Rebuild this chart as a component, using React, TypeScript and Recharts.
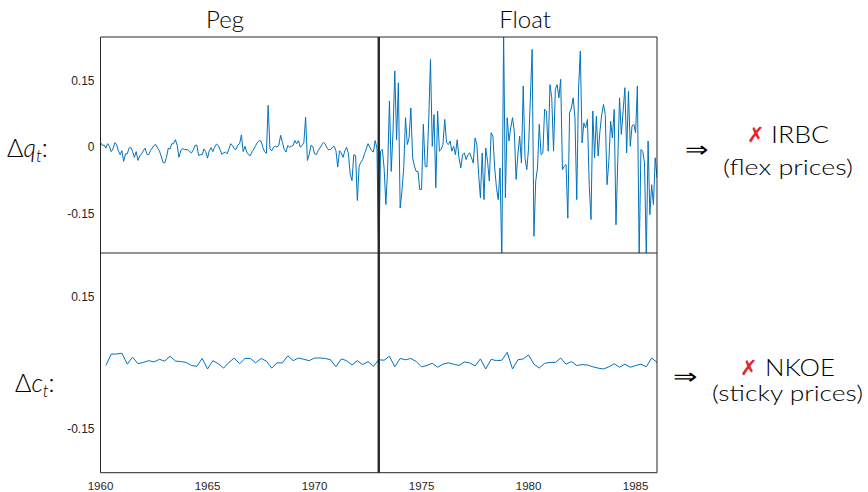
import { Line, LineChart, ReferenceLine, XAxis, YAxis } from 'recharts'

// monthly real exchange rate growth, Δq_t
const PEG_Q_START = 1960
const PEG_Q = [
  0.011, 0.004, 0.005, -0.002, 0.008, 0.002, -0.01, -0.004, 0.01, 0.007,
  -0.008, -0.017, -0.008, -0.032, -0.015, -0.015, -0.002, 0.0, -0.01, -0.023,
  -0.01, -0.03, -0.02, -0.015, -0.008, -0.002, -0.016, -0.017, -0.008, -0.002,
  0.004, 0.006, -0.002, -0.008, -0.02, -0.034, -0.036, -0.023, -0.002, -0.004,
  0.008, 0.008, 0.017, 0.004, -0.023, -0.008, -0.003, -0.005, -0.005, -0.006,
  -0.01, -0.013, -0.006, 0.004, 0.005, -0.019, -0.017, -0.017, -0.004, -0.01,
  -0.025, -0.008, -0.001, -0.01, 0.0, 0.007, 0.004, -0.005, -0.016, -0.013,
  -0.011, -0.015, -0.004, 0.008, 0.004, -0.004, -0.005, 0.005, 0.008, 0.028,
  -0.01, 0.002, -0.011, -0.017, -0.019, -0.01, -0.004, 0.004, 0.011, 0.015,
  0.014, 0.0, -0.01, -0.014, 0.095, -0.004, -0.008, 0.0, 0.002, 0.0,
  0.005, 0.027, 0.011, -0.005, -0.011, 0.004, 0.0, 0.002, 0.004, 0.015,
  0.008, 0.015, 0.0, 0.004, 0.01, 0.068, -0.03, -0.017, 0.004, 0.002,
  -0.015, -0.017, -0.008, -0.002, 0.005, 0.011, 0.007, -0.002, -0.006, -0.005,
  0.0, 0.002, -0.008, -0.045, -0.008, -0.013, -0.023, -0.008, 0.0, -0.015,
  -0.061, -0.076, -0.017, -0.019, -0.121, -0.043, -0.034, -0.028, -0.015, -0.004,
  0.008, 0.0, -0.008, -0.011, 0.015, -0.002,
]
const FLOAT_Q_START = 1973
const FLOAT_Q = [
  -0.26, -0.009, -0.005, -0.047, -0.13, -0.047, 0.105, -0.055, 0.036, 0.173,
  0.017, 0.146, -0.138, -0.1, -0.047, 0.067, 0.006, 0.021, 0.089, -0.024,
  -0.043, -0.055, -0.055, -0.096, -0.096, 0.052, -0.043, -0.045, 0.059, 0.199,
  0.002, 0.074, -0.092, 0.082, -0.009, -0.005, 0.006, 0.063, 0.01, 0.006,
  0.014, -0.009, 0.002, -0.017, 0.017, -0.024, -0.047, -0.017, -0.013, -0.028,
  -0.017, -0.013, -0.024, -0.036, 0.021, 0.006, -0.062, -0.115, -0.013, -0.119,
  -0.002, -0.032, -0.077, 0.033, 0.025, -0.047, -0.092, -0.119, -0.047, -0.26,
  0.26, -0.115, 0.067, 0.014, 0.044, 0.067, 0.036, -0.073, -0.017, 0.025,
  -0.036, 0.139, -0.024, -0.051, -0.002, 0.112, 0.222, -0.202, -0.077, -0.047,
  0.052, -0.017, -0.013, 0.086, 0.082, -0.009, 0.142, 0.112, -0.009, 0.131,
  0.142, 0.112, 0.154, -0.051, -0.043, -0.039, -0.161, 0.078, 0.089, 0.112,
  0.067, -0.119, 0.131, 0.218, 0.01, 0.055, 0.044, 0.063, -0.085, -0.164,
  0.082, -0.024, 0.07, -0.02, 0.036, 0.074, 0.097, 0.074, -0.085, -0.032,
  0.059, 0.021, 0.086, -0.176, -0.032, 0.112, 0.029, 0.082, 0.135, -0.013,
  0.127, 0.002, 0.048, 0.052, 0.033, 0.139, -0.25, -0.005, -0.009, -0.036,
  -0.25, 0.014, -0.153, -0.085, -0.13, -0.024, -0.07,
]

// quarterly consumption growth, Δc_t
const PEG_C_START = 1960.25
const PEG_C = [
  -0.006, 0.02, 0.02, 0.022, -0.003, 0.013, -0.002, 0.001, 0.005, 0.002,
  0.008, 0.004, 0.015, 0.004, 0.003, 0.001, -0.006, -0.008, 0.01, -0.014,
  0.005, -0.002, -0.012, 0.001, 0.011, -0.002, 0.01, 0.01, 0.0, 0.01,
  0.004, -0.012, 0.0, 0.0, 0.016, 0.005, 0.011, 0.008, 0.005, 0.011,
  0.011, 0.01, 0.007, -0.009, 0.009, 0.005, -0.005, 0.005, -0.004, 0.003,
  -0.008,
]
const FLOAT_C_START = 1973
const FLOAT_C = [
  0.007, 0.006, 0.015, -0.009, 0.01, 0.007, 0.01, 0.003, -0.009, -0.006,
  -0.001, -0.01, -0.003, 0.0, -0.003, -0.006, 0.002, 0.0, -0.007, 0.009,
  -0.014, 0.008, 0.005, 0.006, 0.024, -0.014, 0.007, 0.009, 0.018, -0.003,
  -0.012, -0.001, 0.001, 0.001, 0.011, -0.003, 0.003, -0.006, -0.004, -0.005,
  -0.009, -0.012, -0.014, -0.009, -0.002, -0.01, -0.003, -0.01, -0.006, -0.003,
  -0.009, 0.011, 0.001,
]

const YEAR_TICKS = [1960, 1965, 1970, 1975, 1980, 1985]
const BREAK_YEAR = 1973
const Q_LABEL_TICKS = [0.15, 0, -0.15]
const C_LABEL_TICKS = [0.15, -0.15]
const LEFT_MARKS_Q = [0.15, 0, -0.15]
const LEFT_MARKS_C = [0.15, -0.15]
const RIGHT_MARKS = [0.2, 0.15, 0.1, 0, -0.1, -0.15, -0.2]

const toSeries = (start: number, step: number, vals: number[]) =>
  vals.map((v, i) => ({ t: start + i * step, v }))

const qData = [
  ...toSeries(PEG_Q_START, 1 / 12, PEG_Q),
  ...toSeries(FLOAT_Q_START, 1 / 12, FLOAT_Q),
]
const cData = [
  ...toSeries(PEG_C_START, 0.25, PEG_C),
  ...toSeries(FLOAT_C_START, 0.25, FLOAT_C),
]

const AX = '#262626'
const BLUE = '#0072BD'
const tickFont = { fontSize: 12, fill: AX, fontFamily: 'Liberation Sans, Arial, sans-serif' }

function Panel({
  data,
  height,
  domain,
  labelTicks,
  leftMarks,
  showYears,
}: {
  data: { t: number; v: number }[]
  height: number
  domain: [number, number]
  labelTicks: number[]
  leftMarks: number[]
  showYears: boolean
}) {
  return (
    <LineChart
      width={700}
      height={height}
      data={data}
      margin={{ top: showYears ? 0 : 37, right: 43, bottom: 0, left: 40.5 }}
    >
      <XAxis
        xAxisId="b"
        dataKey="t"
        type="number"
        orientation="bottom"
        domain={[1960, 1986]}
        ticks={YEAR_TICKS}
        allowDataOverflow
        mirror
        tick={false}
        tickSize={3}
        stroke={AX}
      />
      <XAxis
        xAxisId="t"
        dataKey="t"
        type="number"
        orientation="top"
        domain={[1960, 1986]}
        ticks={YEAR_TICKS}
        allowDataOverflow
        mirror
        tick={false}
        tickSize={3}
        stroke={AX}
      />
      {showYears && (
        <XAxis
          xAxisId="lab"
          dataKey="t"
          type="number"
          orientation="bottom"
          domain={[1960, 1986]}
          ticks={YEAR_TICKS}
          allowDataOverflow
          axisLine={false}
          tickLine={false}
          tickSize={4}
          tickMargin={5}
          tick={{ ...tickFont, fontSize: 11.5 }}
          height={19.3}
        />
      )}
      <YAxis
        yAxisId="lab"
        type="number"
        domain={domain}
        ticks={labelTicks}
        allowDataOverflow
        axisLine={false}
        tickLine={false}
        tickSize={4}
        tickMargin={2}
        width={60}
        tick={tickFont}
      />
      <YAxis
        yAxisId="inL"
        type="number"
        orientation="left"
        domain={domain}
        ticks={leftMarks}
        allowDataOverflow
        mirror
        tick={false}
        tickSize={3}
        stroke={AX}
      />
      <YAxis
        yAxisId="inR"
        type="number"
        orientation="right"
        domain={domain}
        ticks={RIGHT_MARKS}
        allowDataOverflow
        mirror
        tick={false}
        tickSize={3}
        stroke={AX}
      />
      <Line
        xAxisId="b"
        yAxisId="inL"
        dataKey="v"
        stroke={BLUE}
        strokeWidth={1}
        dot={false}
        isAnimationActive={false}
      />
      <ReferenceLine xAxisId="b" yAxisId="inL" x={BREAK_YEAR} stroke={AX} strokeWidth={2.4} />
    </LineChart>
  )
}

const txt = { fontFamily: 'Lato, "DejaVu Sans", sans-serif', fill: '#000', fontWeight: 300 }

export default function App() {
  return (
    <div style={{ position: 'absolute', left: 0, top: 0, width: 868, height: 492, background: '#fff' }}>
      <div style={{ position: 'absolute', left: 0, top: 0 }}>
        <Panel data={qData} height={253} domain={[-0.24, 0.25]} labelTicks={Q_LABEL_TICKS} leftMarks={LEFT_MARKS_Q} showYears={false} />
      </div>
      <div style={{ position: 'absolute', left: 0, top: 253 }}>
        <Panel data={cData} height={239} domain={[-0.25, 0.25]} labelTicks={C_LABEL_TICKS} leftMarks={LEFT_MARKS_C} showYears />
      </div>
      <svg width={868} height={492} style={{ position: 'absolute', left: 0, top: 0, pointerEvents: 'none' }}>
        <text x={225} y={28} fontSize={24} textAnchor="middle" {...txt}>Peg</text>
        <text x={525} y={28} fontSize={24} textAnchor="middle" {...txt}>Float</text>

        <text x={7} y={157} fontSize={25} {...txt}>
          Δ<tspan fontStyle="italic">q</tspan>
          <tspan fontStyle="italic" fontSize={17} dy={5}>t</tspan>
          <tspan dy={-5}>:</tspan>
        </text>
        <text x={15} y={392} fontSize={25} {...txt}>
          Δ<tspan fontStyle="italic">c</tspan>
          <tspan fontStyle="italic" fontSize={17} dy={5}>t</tspan>
          <tspan dy={-5}>:</tspan>
        </text>

        <text x={685} y={157} fontSize={22} textLength={23} lengthAdjust="spacingAndGlyphs" {...txt}>⇒</text>
        <text x={747} y={142} fontSize={21} fontFamily="DejaVu Sans" fill="#e3262b">✗</text>
        <text x={771} y={143} fontSize={24} textLength={58} lengthAdjust="spacingAndGlyphs" {...txt}>IRBC</text>
        <text x={723} y={175} fontSize={22} textLength={130} lengthAdjust="spacingAndGlyphs" {...txt}>(flex prices)</text>

        <text x={673} y={384} fontSize={22} textLength={24} lengthAdjust="spacingAndGlyphs" {...txt}>⇒</text>
        <text x={740} y={375} fontSize={21} fontFamily="DejaVu Sans" fill="#e3262b">✗</text>
        <text x={765} y={376} fontSize={24} textLength={70} lengthAdjust="spacingAndGlyphs" {...txt}>NKOE</text>
        <text x={712} y={401} fontSize={22} textLength={151} lengthAdjust="spacingAndGlyphs" {...txt}>(sticky prices)</text>
      </svg>
    </div>
  )
}
